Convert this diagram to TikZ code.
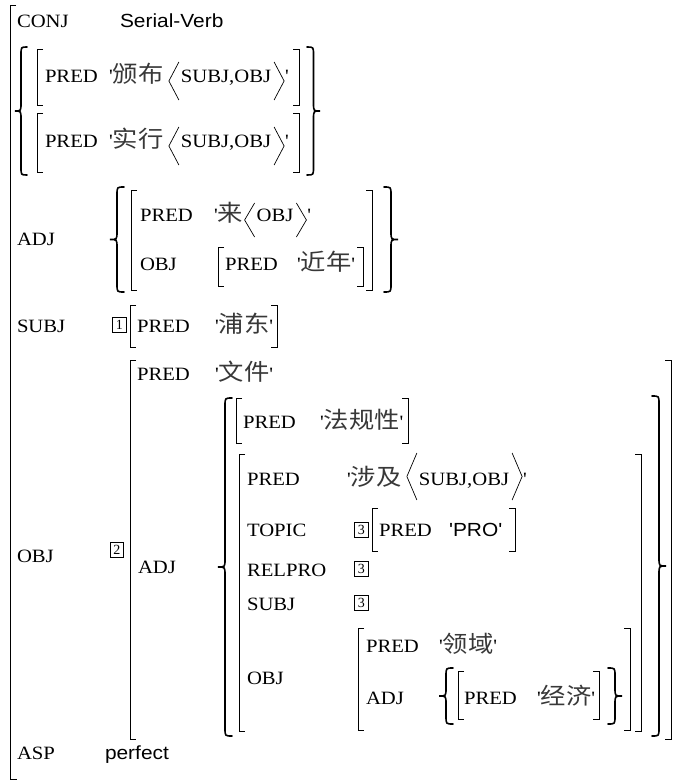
\documentclass[tikz,border=0pt]{standalone}
\usepackage{fontspec}
\newfontfamily\cjkf{Noto Sans CJK SC}
\newfontfamily\sansf{Liberation Sans}
\newfontfamily\serf{Liberation Serif}
\newcommand\pal{\serf\fontsize{18.8}{20}\selectfont}
\newcommand\cj{\cjkf\fontsize{23}{24}\selectfont\color{black!78}}
\newcommand\sa{\sansf\fontsize{19}{20}\selectfont}
\newcommand\mylb[3]{\draw[brk] (#1+6,#2) -- (#1,#2) -- (#1,#3) -- (#1+6,#3);}
\newcommand\myrb[3]{\draw[brk] (#1-6,#2) -- (#1,#2) -- (#1,#3) -- (#1-6,#3);}
\newcommand\mybrace[4]{%
 \pgfmathsetmacro\bxm{(#1+#2)/2}%
 \pgfmathsetmacro\bym{(#3+#4)/2}%
 \draw[brc] (#2,#3) .. controls (\bxm,#3) .. (\bxm,#3+8) -- (\bxm,\bym-8) .. controls (\bxm,\bym) .. (#1,\bym) .. controls (\bxm,\bym) .. (\bxm,\bym+8) -- (\bxm,#4-8) .. controls (\bxm,#4) .. (#2,#4);}
\newcommand\angles[3]{%
 \draw[ang] ([shift={(-2,-#2)}]#1.base west) -- ([shift={(-12,{(#3-#2)/2})}]#1.base west) -- ([shift={(-2,#3)}]#1.base west);
 \draw[ang] ([shift={(3,-#2)}]#1.base east) -- ([shift={(13,{(#3-#2)/2})}]#1.base east) -- ([shift={(3,#3)}]#1.base east);}
\newcommand\qs{\textquotesingle}
\tikzset{
 t/.style={anchor=base west, inner sep=0pt, outer sep=0pt, font=\pal, xscale=1.1},
 brk/.style={line width=0.9pt},
 brc/.style={line width=1.6pt, line cap=round},
 ang/.style={line width=0.7pt},
 nb/.style={draw, line width=0.6pt, inner sep=0pt, minimum width=14pt, minimum height=15pt, font=\serf\fontsize{14}{14}\selectfont, anchor=south west}
}
\begin{document}
\begin{tikzpicture}[x=1pt,y=-1pt]
\fill[white] (0,0) rectangle (678,783);
\useasboundingbox (0,0) rectangle (678,783);
% outer bracket
\draw[brk] (16,5) -- (10,5) -- (10,779) -- (17,779);
% CONJ
\node[t] (conj) at (17,28) {CONJ};
\node[t,font=\sa] (serial) at (120,28) {Serial-Verb};
% conjunct set
\mybrace{15}{27}{47}{175}
\mybrace{320}{307}{47}{175}
\mylb{37}{49}{105} \myrb{299}{49}{105}
\mylb{37}{113}{172} \myrb{299}{113}{172}
\node[t] (p1) at (45,83) {PRED};
\node[t] (v1) at (109,83) {\qs{\cj 颁布}};
\node[t,anchor=base] (a1) at (226,83) {SUBJ,OBJ};
\angles{a1}{21}{17}
\node[t] (q1) at ([xshift=14pt]a1.base east) {\qs};
\node[t] (p2) at (45,148) {PRED};
\node[t] (v2) at (109,148) {\qs{\cj 实行}};
\node[t,anchor=base] (a2) at (226,148) {SUBJ,OBJ};
\angles{a2}{21}{17}
\node[t] (q2) at ([xshift=14pt]a2.base east) {\qs};
% ADJ
\node[t] (adj1) at (17,246) {ADJ};
\mybrace{110}{124}{187}{292}
\mybrace{398}{384}{187}{292}
\mylb{131}{190}{290} \myrb{372}{190}{290}
\node[t] (p3) at (140,222) {PRED};
\node[t] (v3) at (214,222) {\qs{\cj 来}};
\node[t,anchor=base] (a3) at (275,222) {OBJ};
\angles{a3}{19}{15}
\node[t] (q3) at ([xshift=14pt]a3.base east) {\qs};
\node[t] (o3) at (140,270) {OBJ};
\mylb{218}{247}{286} \myrb{363}{247}{286}
\node[t] (p4) at (225,270) {PRED};
\node[t] (v4) at (297,270) {\qs{\cj 近年}\qs};
% SUBJ
\node[t] (subj1) at (17,332) {SUBJ};
\node[nb] (b1) at (112,333) {1};
\mylb{130}{305}{347} \myrb{277}{305}{347}
\node[t] (p5) at (137,332) {PRED};
\node[t] (v5) at (215,332) {\qs{\cj 浦东}\qs};
% OBJ
\node[t] (obj1) at (17,562) {OBJ};
\node[nb,minimum width=13pt] (b2) at (110,558) {2};
\mylb{130}{360}{739} \myrb{671}{360}{739}
\node[t] (p6) at (137,380) {PRED};
\node[t] (v6) at (215,380) {\qs{\cj 文件}\qs};
\node[t] (adj2) at (138,573) {ADJ};
\mybrace{218}{232}{398}{736}
\mybrace{666}{652}{396}{736}
\mylb{236}{398}{443} \myrb{408}{398}{443}
\node[t] (p7) at (243,428) {PRED};
\node[t] (v7) at (320,428) {\qs{\cj 法规性}\qs};
\mylb{239}{454}{731} \myrb{641}{454}{731}
\node[t] (p8) at (247,485) {PRED};
\node[t] (v8) at (347,485) {\qs{\cj 涉及}};
\node[t,anchor=base] (a8) at (464,485) {SUBJ,OBJ};
\angles{a8}{32}{15}
\node[t] (q8) at ([xshift=14pt]a8.base east) {\qs};
\node[t] (topic) at (247,536) {TOPIC};
\node[nb] (b3a) at (354,538) {3};
\mylb{372}{508}{551} \myrb{515}{508}{551}
\node[t] (p9) at (379,536) {PRED};
\node[t,font=\sa] (pro) at (449,536) {\qs PRO\qs};
\node[t] (relpro) at (247,576) {RELPRO};
\node[nb] (b3b) at (354,577) {3};
\node[t] (subj2) at (247,610) {SUBJ};
\node[nb] (b3c) at (354,611) {3};
\node[t] (obj2) at (247,684) {OBJ};
\mylb{358}{628}{730} \myrb{630}{628}{730}
\node[t] (p10) at (366,652) {PRED};
\node[t] (v10) at (439,652) {\qs{\cj 领域}\qs};
\node[t] (adj3) at (366,704) {ADJ};
\mybrace{439}{453}{668}{724}
\mybrace{622}{608}{668}{724}
\mylb{458}{671}{719} \myrb{599}{671}{719}
\node[t] (p11) at (464,704) {PRED};
\node[t] (v11) at (537,704) {\qs{\cj 经济}\qs};
% ASP
\node[t] (asp) at (17,759) {ASP};
\node[t,font=\sa] (perf) at (105,759) {perfect};
\end{tikzpicture}
\end{document}
